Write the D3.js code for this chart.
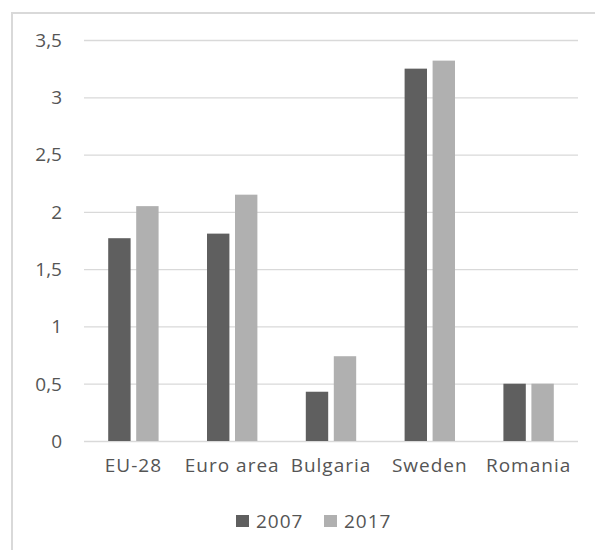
<!DOCTYPE html>
<html lang="en">
<head>
    <meta charset="UTF-8">
    <title>Bar chart 2007 / 2017</title>
    <style>
        body
        {
            margin: 0;
            background: #ffffff;
        }

        text
        {
            font-family: "Open Sans", sans-serif;
            font-size: 19px;
            fill: #555555;
        }

        .x-axis .tick text, .legend text
        {
            letter-spacing: 1px;
        }
    </style>
</head>
<body>

    <svg width="595" height="550"></svg>

    <script src="https://d3js.org/d3.v7.min.js"></script>

    <script>

        // Data
        const categories = ['EU-28', 'Euro area', 'Bulgaria', 'Sweden', 'Romania'];
        const seriesNames = ['2007', '2017'];
        const values2007 = [1.77, 1.81, 0.43, 3.25, 0.5];
        const values2017 = [2.05, 2.15, 0.74, 3.32, 0.5];
        const yTickValues = [0, 0.5, 1, 1.5, 2, 2.5, 3, 3.5];

        const colors = ['#5f5f5f', '#b0b0b0'];

        const margin = { left: 84, right: 17, top: 40, bottom: 109 };

        const svg = d3.select('svg');
        const width = +svg.attr('width');
        const height = +svg.attr('height');
        const innerWidth = width - margin.left - margin.right;
        const innerHeight = height - margin.top - margin.bottom;

        // Outer chart frame (cropped at the right and bottom)
        svg.append('path')
            .attr('d', 'M12,' + height + 'V13H' + width)
            .attr('fill', 'none')
            .attr('stroke', '#d9d9d9')
            .attr('stroke-width', 2);

        const group = svg.append('g')
            .attr('transform', 'translate(' + margin.left + ' ' + margin.top + ')');

        const table = categories.map(function (c, i) {
            return { category: c, values: [values2007[i], values2017[i]] };
        });

        const xScale = d3.scaleBand()
            .domain(categories)
            .range([0, innerWidth])
            .paddingInner(0.49)
            .paddingOuter(0.245);

        const xSub = d3.scaleBand()
            .domain(seriesNames)
            .range([0, xScale.bandwidth()])
            .paddingInner(0.2);

        const yScale = d3.scaleLinear()
            .domain([0, 3.5])
            .range([innerHeight, 0]);

        const commaFormat = d3.formatLocale({ decimal: ',', thousands: '.', grouping: [3], currency: ['', ''] }).format('');

        // gridlines from the y axis, labels drawn next to them
        const yAxisG = group.append('g')
            .attr('class', 'y-axis')
            .call(d3.axisLeft(yScale)
                .tickValues(yTickValues)
                .tickFormat('')
                .tickSize(-innerWidth));

        yAxisG.select('.domain').remove();
        yAxisG.selectAll('.tick line').attr('stroke', '#d9d9d9').attr('stroke-width', 1.3);

        group.append('g')
            .attr('class', 'y-labels')
            .selectAll('text')
            .data(yTickValues)
            .enter()
            .append('text')
            .attr('x', -22)
            .attr('y', function (d) { return yScale(d); })
            .attr('dy', '0.36em')
            .attr('text-anchor', 'end')
            .text(function (d) { return commaFormat(d); });

        // bars
        const catG = group.selectAll('.cat')
            .data(table)
            .enter()
            .append('g')
            .attr('class', 'cat')
            .attr('transform', function (d) {
                return 'translate(' + xScale(d.category) + ' 0)';
            });

        catG.selectAll('rect')
            .data(function (d) { return d.values; })
            .enter()
            .append('rect')
            .attr('x', function (d, i) { return xSub(seriesNames[i]); })
            .attr('y', function (d) { return yScale(d); })
            .attr('width', xSub.bandwidth())
            .attr('height', function (d) { return innerHeight - yScale(d); })
            .attr('fill', function (d, i) { return colors[i]; });

        // x axis (labels only)
        const xAxisG = group.append('g')
            .attr('class', 'x-axis')
            .attr('transform', 'translate(0 ' + innerHeight + ')')
            .call(d3.axisBottom(xScale).tickSize(0).tickPadding(18));

        xAxisG.select('.domain').remove();

        // legend
        const legend = svg.append('g')
            .attr('class', 'legend');

        const legendX = [236, 324];

        seriesNames.forEach(function (name, i) {
            legend.append('rect')
                .attr('x', legendX[i])
                .attr('y', 515)
                .attr('width', 13)
                .attr('height', 12)
                .attr('fill', colors[i]);

            legend.append('text')
                .attr('x', legendX[i] + 20)
                .attr('y', 528)
                .text(name);
        });

    </script>

</body>
</html>
